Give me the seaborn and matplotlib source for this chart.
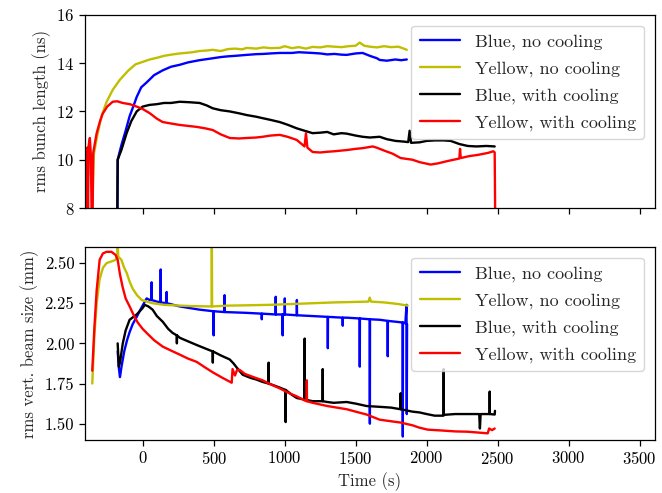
import numpy as np
import pandas as pd
import matplotlib
matplotlib.use("Agg")
import matplotlib.pyplot as plt
import seaborn as sns

# ---------------- data ----------------
# Top panel: rms bunch length (ns)
bl_blue_nc_t = [-178, -176, -150, -120, -92, -60, -42, -10, 28, 80, 141, 200, 261, 320, 400, 493, 550, 600, 650, 732,
                800, 850, 900, 965, 1050, 1100, 1197, 1250, 1300, 1350, 1400, 1437, 1500, 1549, 1600, 1650, 1669,
                1720, 1780, 1820, 1860]
bl_blue_nc_v = [8.0, 10.0, 10.6, 11.2, 11.8, 12.3, 12.6, 13.0, 13.2, 13.5, 13.7, 13.85, 13.93, 14.03, 14.12, 14.2,
                14.25, 14.28, 14.3, 14.34, 14.37, 14.38, 14.4, 14.42, 14.42, 14.45, 14.42, 14.4, 14.36, 14.38, 14.35,
                14.34, 14.4, 14.42, 14.3, 14.2, 14.13, 14.1, 14.15, 14.12, 14.15]

bl_yel_nc_t = [-355, -345, -320, -290, -254, -210, -162, -100, -50, 0, 50, 100, 150, 200, 261, 300, 350, 400, 450,
               493, 550, 600, 650, 700, 732, 800, 850, 900, 965, 1000, 1050, 1100, 1150, 1197, 1250, 1300, 1350,
               1400, 1450, 1500, 1528, 1560, 1600, 1650, 1700, 1750, 1800, 1830, 1860]
bl_yel_nc_v = [8.0, 10.2, 11.0, 11.8, 12.4, 12.9, 13.3, 13.7, 13.95, 14.05, 14.15, 14.22, 14.3, 14.35, 14.4, 14.42,
               14.45, 14.5, 14.52, 14.55, 14.5, 14.58, 14.6, 14.57, 14.63, 14.6, 14.65, 14.62, 14.63, 14.7, 14.62,
               14.66, 14.6, 14.67, 14.65, 14.7, 14.68, 14.66, 14.7, 14.72, 14.85, 14.72, 14.68, 14.65, 14.7, 14.66,
               14.68, 14.62, 14.55]

bl_blue_wc_t = [-178, -176, -150, -113, -80, -42, 0, 49, 100, 150, 200, 261, 330, 401, 450, 493, 550, 613, 680, 732,
                800, 845, 900, 965, 1020, 1085, 1140, 1197, 1250, 1300, 1345, 1400, 1437, 1500, 1549, 1600, 1669,
                1720, 1780, 1840, 1870, 1880, 1890, 1950, 2000, 2060, 2120, 2169, 2230, 2289, 2350, 2420, 2479]
bl_blue_wc_v = [8.0, 10.0, 10.4, 11.1, 11.6, 12.0, 12.2, 12.27, 12.3, 12.35, 12.35, 12.4, 12.38, 12.35, 12.25, 12.13,
                12.05, 12.0, 11.92, 11.85, 11.78, 11.72, 11.65, 11.56, 11.45, 11.3, 11.2, 11.1, 11.12, 11.15, 11.05,
                11.1, 11.08, 11.0, 10.95, 10.92, 10.95, 10.85, 10.78, 10.75, 10.73, 11.2, 10.7, 10.72, 10.78, 10.8,
                10.8, 10.78, 10.65, 10.57, 10.55, 10.57, 10.55]

bl_yel_wc_t = [-400, -398, -390, -385, -380, -372, -365, -360, -352, -348, -324, -300, -282, -250, -211, -180, -141,
               -90, -42, 0, 49, 100, 141, 200, 261, 320, 380, 440, 493, 550, 613, 680, 732, 800, 845, 900, 965, 1020,
               1085, 1140, 1150, 1160, 1197, 1250, 1300, 1350, 1400, 1437, 1500, 1550, 1620, 1648, 1700, 1760, 1817,
               1900, 1950, 2028, 2080, 2150, 2230, 2235, 2240, 2300, 2360, 2430, 2470, 2479, 2482]
bl_yel_wc_v = [8.0, 10.3, 10.5, 8.0, 10.6, 10.9, 10.2, 8.0, 8.0, 10.3, 11.1, 11.6, 11.9, 12.2, 12.4, 12.42, 12.35,
               12.3, 12.2, 12.1, 11.93, 11.7, 11.56, 11.5, 11.44, 11.4, 11.36, 11.3, 11.23, 11.05, 10.9, 10.88, 10.9,
               10.92, 10.95, 11.0, 11.03, 10.95, 10.82, 10.55, 11.1, 10.5, 10.32, 10.3, 10.33, 10.35, 10.38, 10.4,
               10.45, 10.48, 10.55, 10.5, 10.38, 10.25, 10.07, 10.0, 9.9, 9.8, 9.85, 9.95, 10.05, 10.45, 10.07, 10.15,
               10.2, 10.28, 10.35, 10.3, 8.0]

# Bottom panel: rms vertical beam size (mm)
bs_blue_nc_t = [-176, -168, -160, -150, -130, -110, -92, -70, -42, -10, 28, 50, 62, 63, 64, 100, 126, 127, 128, 168,
                169, 170, 261, 400, 499, 500, 501, 576, 577, 578, 732, 838, 839, 840, 936, 937, 938, 985, 986, 987,
                1000, 1001, 1002, 1085, 1086, 1087, 1197, 1303, 1304, 1305, 1408, 1409, 1410, 1437, 1528, 1529, 1530,
                1599, 1600, 1601, 1669, 1725, 1726, 1727, 1831, 1832, 1833, 1850, 1858, 1860, 1862]
bs_blue_nc_v = [1.95, 1.85, 1.79, 1.85, 1.95, 2.02, 2.07, 2.12, 2.165, 2.22, 2.28, 2.27, 2.27, 2.38, 2.27, 2.26,
                2.255, 2.46, 2.255, 2.25, 2.32, 2.25, 2.23, 2.21, 2.2, 2.05, 2.2, 2.195, 2.30, 2.195, 2.19, 2.185,
                2.15, 2.185, 2.18, 2.29, 2.18, 2.18, 2.05, 2.18, 2.18, 2.28, 2.18, 2.175, 2.27, 2.175, 2.17, 2.165,
                1.97, 2.165, 2.16, 2.11, 2.16, 2.16, 2.155, 1.855, 2.155, 2.15, 1.50, 2.15, 2.147, 2.14, 1.92, 2.14,
                2.13, 1.42, 2.13, 2.125, 2.24, 1.56, 2.12]

bs_yel_nc_t = [-355, -340, -324, -303, -280, -254, -220, -190, -178, -176, -172, -150, -130, -113, -90, -70, -40, -7,
               30, 70, 150, 261, 350, 472, 486, 487, 489, 600, 732, 900, 1050, 1197, 1350, 1500, 1590, 1599, 1608,
               1700, 1800, 1866]
bs_yel_nc_v = [1.75, 2.05, 2.25, 2.4, 2.47, 2.5, 2.51, 2.52, 2.55, 2.62, 2.54, 2.52, 2.47, 2.44, 2.38, 2.34, 2.3,
               2.27, 2.26, 2.25, 2.24, 2.235, 2.232, 2.23, 2.23, 2.7, 2.23, 2.235, 2.237, 2.24, 2.245, 2.25, 2.255,
               2.258, 2.26, 2.285, 2.26, 2.255, 2.245, 2.235]

bs_blue_wc_t = [-176, -168, -160, -140, -120, -92, -42, 0, 14, 40, 70, 100, 141, 180, 211, 240, 241, 242, 261, 300,
                380, 450, 493, 494, 495, 550, 613, 640, 662, 704, 760, 800, 845, 886, 887, 888, 965, 1006, 1007,
                1008, 1050, 1085, 1140, 1141, 1142, 1197, 1267, 1268, 1269, 1300, 1345, 1437, 1500, 1577, 1669, 1750,
                1816, 1817, 1818, 1900, 1950, 2000, 2056, 2119, 2120, 2121, 2200, 2289, 2370, 2375, 2380, 2400, 2443,
                2444, 2445, 2479, 2481]
bs_blue_wc_v = [2.0, 1.855, 1.88, 2.0, 2.08, 2.147, 2.18, 2.22, 2.24, 2.23, 2.21, 2.17, 2.135, 2.09, 2.065, 2.05,
                2.0, 2.05, 2.035, 2.02, 1.99, 1.965, 1.95, 1.88, 1.95, 1.925, 1.9, 1.875, 1.85, 1.805, 1.785, 1.775,
                1.76, 1.75, 1.88, 1.75, 1.725, 1.71, 1.51, 1.71, 1.68, 1.66, 1.65, 2.03, 1.65, 1.64, 1.64, 1.84, 1.64,
                1.635, 1.63, 1.635, 1.625, 1.61, 1.605, 1.6, 1.59, 1.69, 1.59, 1.575, 1.57, 1.56, 1.55, 1.55, 1.84,
                1.555, 1.56, 1.56, 1.56, 1.47, 1.56, 1.56, 1.56, 1.70, 1.56, 1.557, 1.58]

bs_yel_wc_t = [-355, -340, -324, -303, -280, -254, -220, -190, -176, -160, -141, -120, -92, -60, -35, 0, 28, 80, 141,
               200, 261, 320, 380, 440, 493, 563, 627, 633, 650, 665, 683, 720, 780, 845, 900, 965, 1020, 1085, 1140,
               1155, 1156, 1157, 1197, 1300, 1437, 1500, 1577, 1669, 1750, 1817, 1900, 1950, 2007, 2100, 2200, 2289,
               2360, 2430, 2440, 2460, 2479]
bs_yel_wc_v = [1.83, 2.1, 2.33, 2.52, 2.56, 2.57, 2.57, 2.55, 2.52, 2.43, 2.35, 2.28, 2.23, 2.17, 2.13, 2.09, 2.065,
               2.02, 1.98, 1.955, 1.93, 1.905, 1.885, 1.85, 1.82, 1.785, 1.755, 1.84, 1.8, 1.835, 1.835, 1.81, 1.79,
               1.77, 1.745, 1.72, 1.695, 1.67, 1.645, 1.64, 1.77, 1.64, 1.63, 1.61, 1.59, 1.575, 1.557, 1.525, 1.515,
               1.507, 1.49, 1.475, 1.463, 1.458, 1.452, 1.45, 1.445, 1.44, 1.47, 1.46, 1.47]

labels = ["Blue, no cooling", "Yellow, no cooling", "Blue, with cooling", "Yellow, with cooling"]
colors = ["#0000ff", "#bfbf00", "#000000", "#ff0000"]

top_series = [(bl_blue_nc_t, bl_blue_nc_v), (bl_yel_nc_t, bl_yel_nc_v),
              (bl_blue_wc_t, bl_blue_wc_v), (bl_yel_wc_t, bl_yel_wc_v)]
bot_series = [(bs_blue_nc_t, bs_blue_nc_v), (bs_yel_nc_t, bs_yel_nc_v),
              (bs_blue_wc_t, bs_blue_wc_v), (bs_yel_wc_t, bs_yel_wc_v)]

# ---------------- style ----------------
sns.set_style("ticks")
plt.rcParams["font.family"] = ["cmr10", "DejaVu Serif"]
plt.rcParams["mathtext.fontset"] = "cm"
plt.rcParams["axes.formatter.use_mathtext"] = True
plt.rcParams["axes.unicode_minus"] = False
plt.rcParams["font.size"] = 12
plt.rcParams["axes.edgecolor"] = "black"
plt.rcParams["xtick.color"] = "black"
plt.rcParams["ytick.color"] = "black"

fig = plt.figure(figsize=(6.62, 4.93), dpi=100)
ax1 = fig.add_axes([0.128, 0.578, 0.861, 0.392])
ax2 = fig.add_axes([0.128, 0.108, 0.861, 0.391], sharex=ax1)


def draw(ax, series):
    for (t, v), lab, c in zip(series, labels, colors):
        df = pd.DataFrame({"t": t, "v": v})
        sns.lineplot(data=df, x="t", y="v", ax=ax, color=c, label=lab, lw=1.7,
                     sort=False, estimator=None)


draw(ax1, top_series)
draw(ax2, bot_series)

for ax in (ax1, ax2):
    for s in ax.spines.values():
        s.set_visible(True)
        s.set_linewidth(0.9)
    ax.tick_params(direction="out", length=4, width=0.9, labelsize=12)
    leg = ax.legend(loc="upper right", fontsize=13, framealpha=0.8,
                    handlelength=2.25, borderpad=0.45, labelspacing=0.6,
                    borderaxespad=0.6)

ax1.set_xlim(-408, 3606)
ax1.set_ylim(8, 16)
ax1.set_yticks([8, 10, 12, 14, 16])
ax2.set_ylim(1.4, 2.6)
ax2.set_yticks([1.5, 1.75, 2.0, 2.25, 2.5])
ax2.set_yticklabels(["1.50", "1.75", "2.00", "2.25", "2.50"])
ax1.set_xticks([0, 500, 1000, 1500, 2000, 2500, 3000, 3500])
plt.setp(ax1.get_xticklabels(), visible=False)
ax1.set_xlabel("")
ax1.set_ylabel("rms bunch length (ns)", fontsize=12)
ax2.set_ylabel("rms vert. beam size (mm)", fontsize=12)
ax2.set_xlabel("Time (s)", fontsize=12)

fig.savefig("out.png", dpi=100)
